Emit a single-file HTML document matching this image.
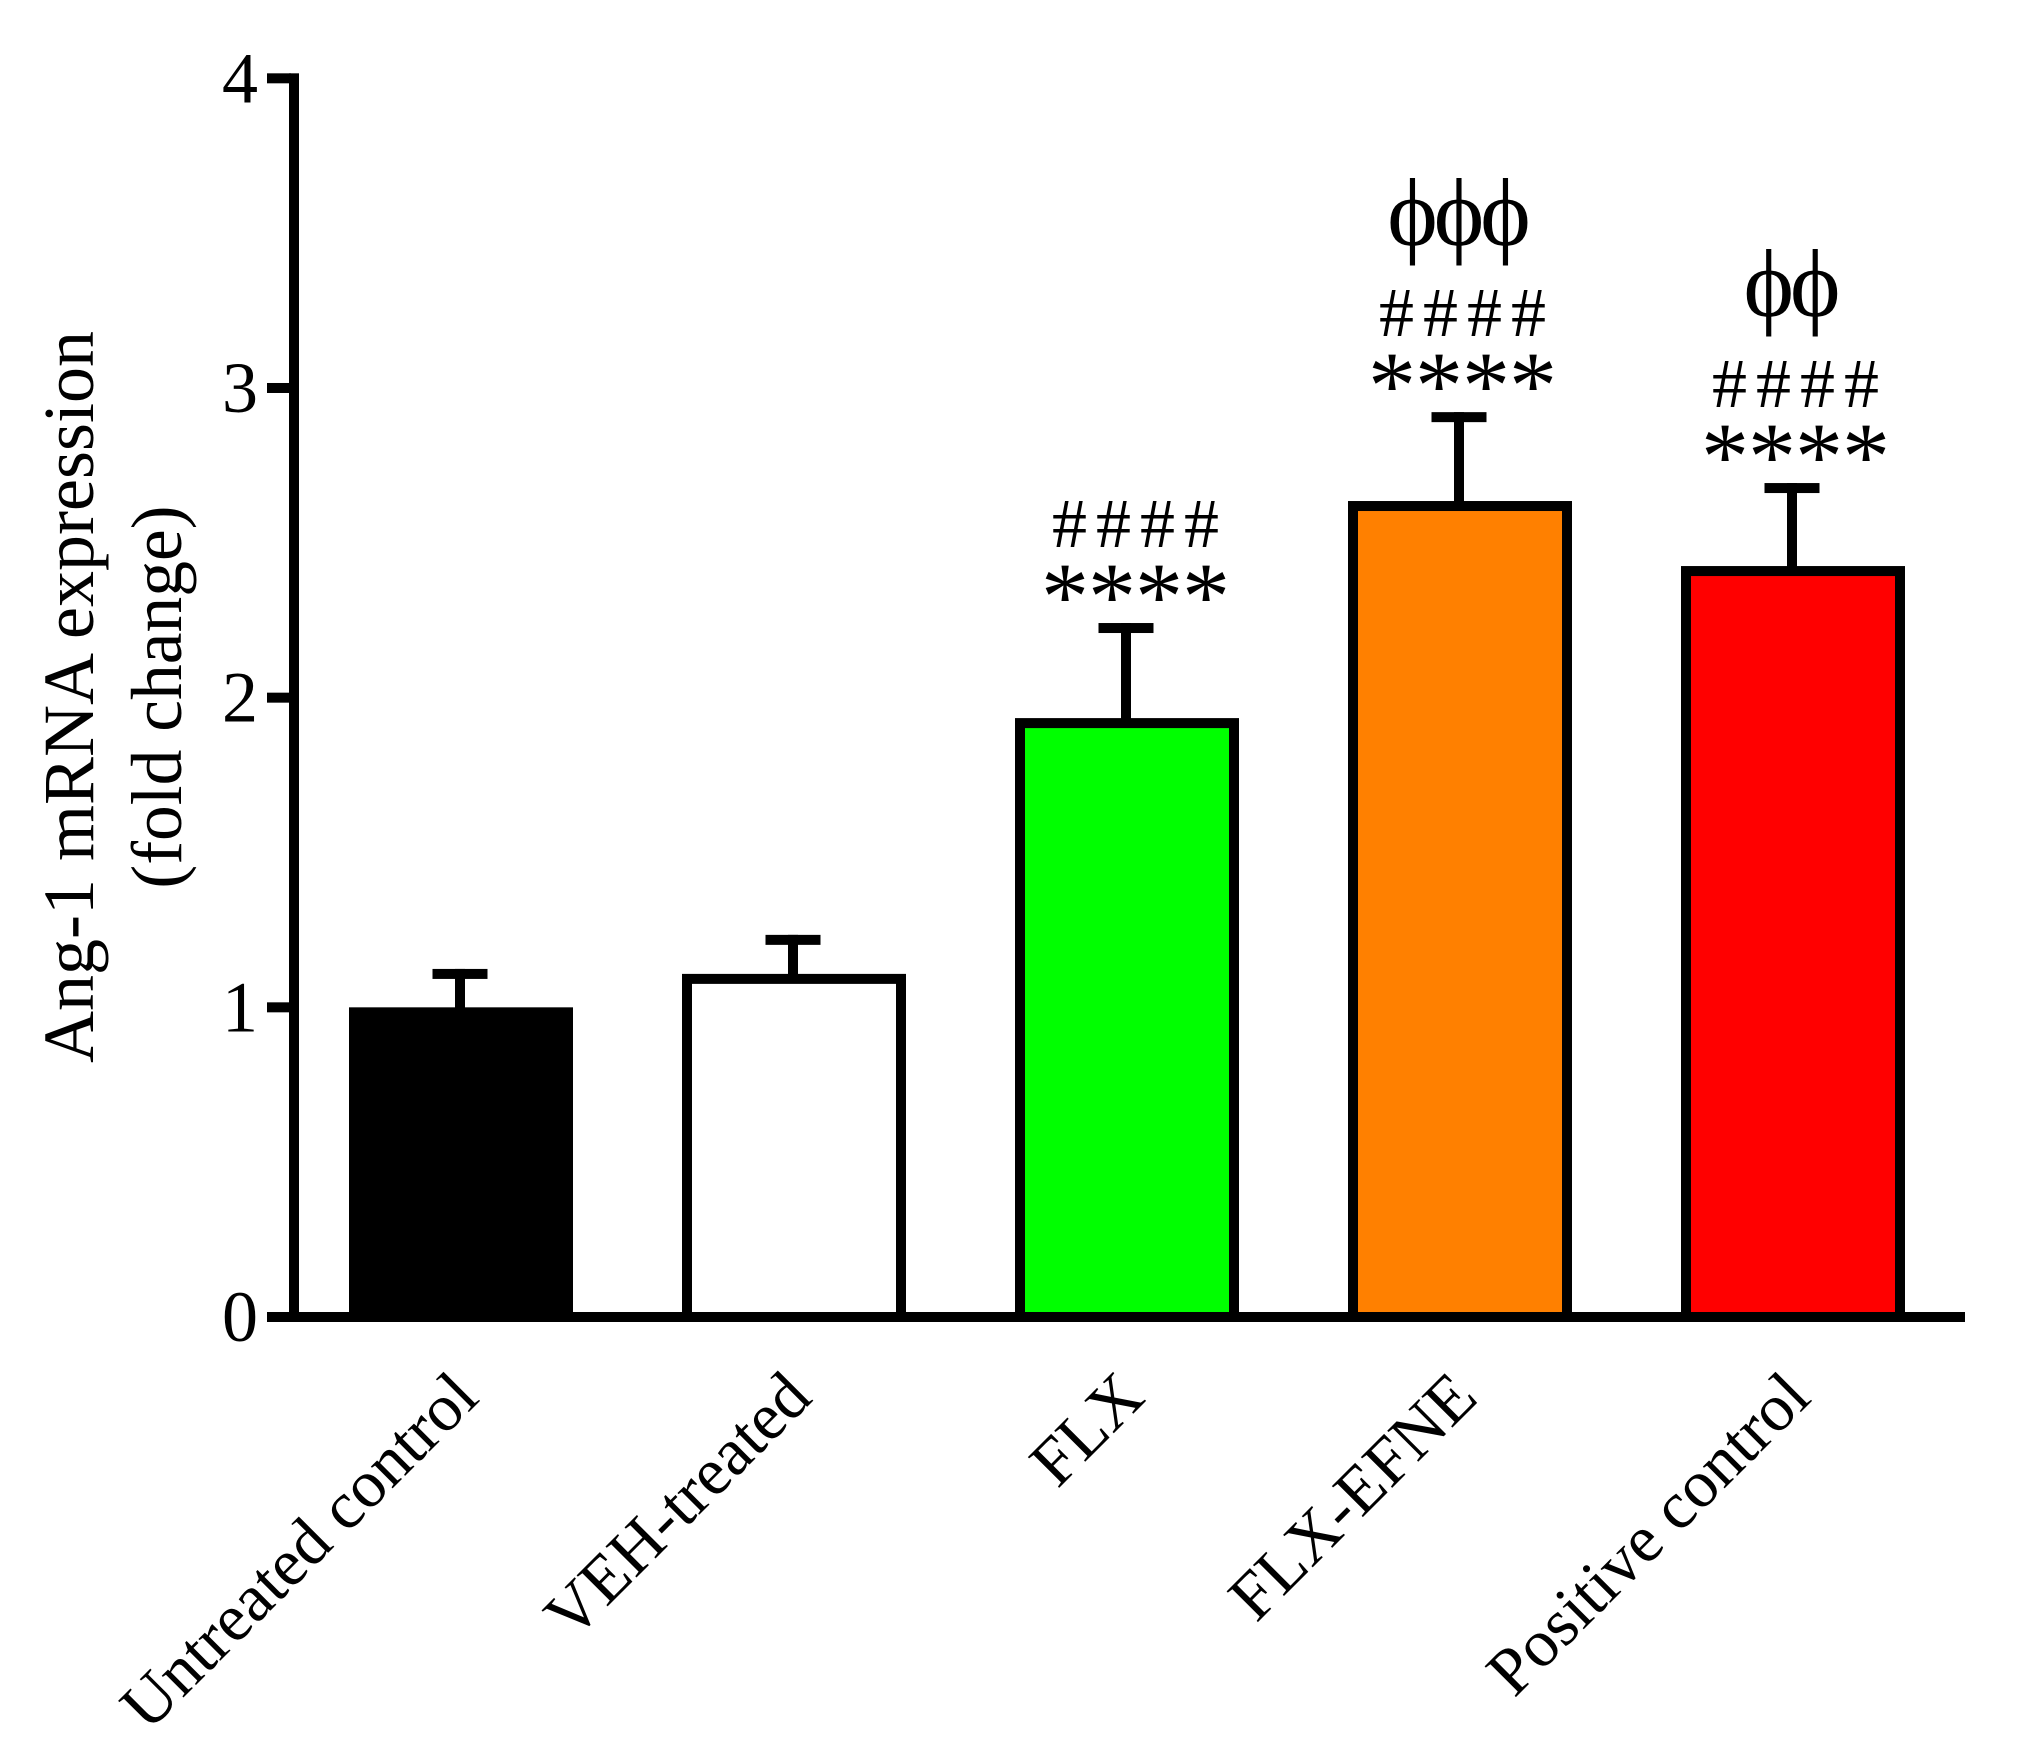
<!DOCTYPE html>
<html lang="en">
<head>
<meta charset="utf-8">
<title>Ang-1 mRNA expression</title>
<style>
html,body{margin:0;padding:0;background:#fff;}
svg{display:block;}
text{font-family:"Liberation Serif","DejaVu Serif",serif;fill:#000;}
</style>
</head>
<body>
<svg id="chart" xmlns="http://www.w3.org/2000/svg" width="2019" height="1752" viewBox="0 0 2019 1752">
  <text transform="translate(93,697) rotate(-90)" text-anchor="middle" font-size="72">Ang-1 mRNA expression</text>
  <text transform="translate(181,697) rotate(-90)" text-anchor="middle" font-size="71.5">(fold change)</text>
  <g id="plot"></g>
</svg>
<script>
const categories = ["Untreated control", "VEH-treated", "FLX", "FLX-EFNE", "Positive control"];
const means = [1.0, 1.108, 1.934, 2.635, 2.425];
const errors = [0.124, 0.126, 0.307, 0.287, 0.268];
const barColors = ["#000000", "#ffffff", "#00ff00", "#ff8000", "#ff0000"];
const yTicks = [0, 1, 2, 3, 4];
const asteriskMarks = ["", "", "****", "****", "****"];
const hashMarks = ["", "", "####", "####", "####"];
const phiMarks = ["", "", "", "\u03D5\u03D5\u03D5", "\u03D5\u03D5"];

const NS = "http://www.w3.org/2000/svg";
const plot = document.getElementById("plot");
const yScale = v => 1317 - v * 309.67;
const xScale = i => 461 + i * 333;

function make(tag, attrs, txt) {
  const el = document.createElementNS(NS, tag);
  for (const k in attrs) el.setAttribute(k, attrs[k]);
  if (txt !== undefined) el.textContent = txt;
  plot.appendChild(el);
  return el;
}

categories.forEach((name, i) => {
  const c = xScale(i);
  const top = yScale(means[i]);
  const capTop = yScale(means[i] + errors[i]);
  const stem = make("rect", {x: c - 6, y: capTop, width: 10, height: top - capTop + 2, fill: "#000"});
  
  
  const cap = make("rect", {x: c - 28.5, y: capTop, width: 55, height: 10, fill: "#000"});
  
  
  const bar = make("rect", {x: c - 107, y: top + 5, width: 214, height: 1317 - top - 5, fill: barColors[i], stroke: "#000", "stroke-width": 10});
  
  

  const label = make("text", {transform: "translate(" + (c + 20) + ",1400) rotate(-45)", "text-anchor": "end", "font-size": 67}, name);
  
  

  const shift = i === 2 ? 8 : 2;
  if (asteriskMarks[i]) {
    const a = make("text", {x: c + shift, y: capTop + 6, "text-anchor": "middle", "font-size": 96, "letter-spacing": -1}, asteriskMarks[i]);
    
    
  }
  if (hashMarks[i]) {
    const h = make("text", {x: c + shift + 5, y: capTop - 76, "text-anchor": "middle", "font-size": 70, "letter-spacing": 9}, hashMarks[i]);
    
    
  }
  if (phiMarks[i]) {
    const p = make("text", {x: c - 3, y: capTop - 167, "text-anchor": "middle", "font-size": 96, "letter-spacing": -4}, phiMarks[i]);
    
    
  }
});

const yAxis = make("rect", {x: 289, y: yScale(4) - 5, width: 10, height: yScale(0) - yScale(4) + 10, fill: "#000"});


const xAxis = make("rect", {x: 267, y: yScale(0) - 5, width: 1698, height: 10, fill: "#000"});



yTicks.forEach(t => {
  const tick = make("rect", {x: 267, y: yScale(t) - 5, width: 24, height: 10, fill: "#000"});
  
  
  const lab = make("text", {x: 258, y: yScale(t) + 24, "text-anchor": "end", "font-size": 72}, String(t));
  
  
});
</script>
</body>
</html>
